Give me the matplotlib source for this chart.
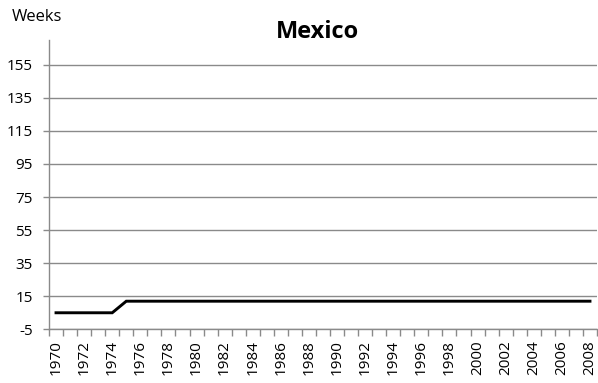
import numpy as np
import matplotlib.pyplot as plt

# weeks per year
years = list(range(1970, 2009))
weeks = [5, 5, 5, 5, 5] + [12] * (len(years) - 5)
yticks = [-5, 15, 35, 55, 75, 95, 115, 135, 155]

plt.rcParams['font.family'] = ['Open Sans', 'DejaVu Sans']

fig = plt.figure(figsize=(5.98, 3.83), dpi=100)
ax = fig.add_axes([49 / 598, (383 - 329.3) / 383, 548 / 598, (329.3 - 40) / 383])

x = np.arange(len(years))
ax.plot(x, weeks, color='black', linewidth=2.1, solid_joinstyle='miter', zorder=3)

ax.set_xlim(-0.5, len(years) - 0.5)
ax.set_ylim(-5, 170)

# y axis
ax.set_yticks(yticks)
ax.set_yticklabels([str(v) for v in yticks], fontsize=11)
ax.yaxis.grid(True, color='#8a8a8a', linewidth=1.0)
ax.set_axisbelow(True)
ax.tick_params(axis='y', length=4.3, width=1, color='#8a8a8a', pad=7.5)

# x axis: labels every 2 years, ticks between categories
ax.set_xticks(x[::2])
ax.set_xticklabels([str(y) for y in years[::2]], rotation=90, fontsize=11)
ax.set_xticks(np.arange(len(years) + 1) - 0.5, minor=True)
ax.tick_params(axis='x', which='major', length=0, pad=8)
ax.tick_params(axis='x', which='minor', length=5, width=1, color='#8a8a8a')

for side in ['top', 'right']:
    ax.spines[side].set_visible(False)
for side in ['left', 'bottom']:
    ax.spines[side].set_color('#8a8a8a')
    ax.spines[side].set_linewidth(1.0)

fig.text(317.5 / 598, 1 - 31.7 / 383, 'Mexico', ha='center', va='center',
         fontsize=17, fontweight='bold')
fig.text(11.7 / 598, 1 - 17 / 383, 'Weeks', ha='left', va='center', fontsize=12)

fig.savefig('out.png', dpi=100)
